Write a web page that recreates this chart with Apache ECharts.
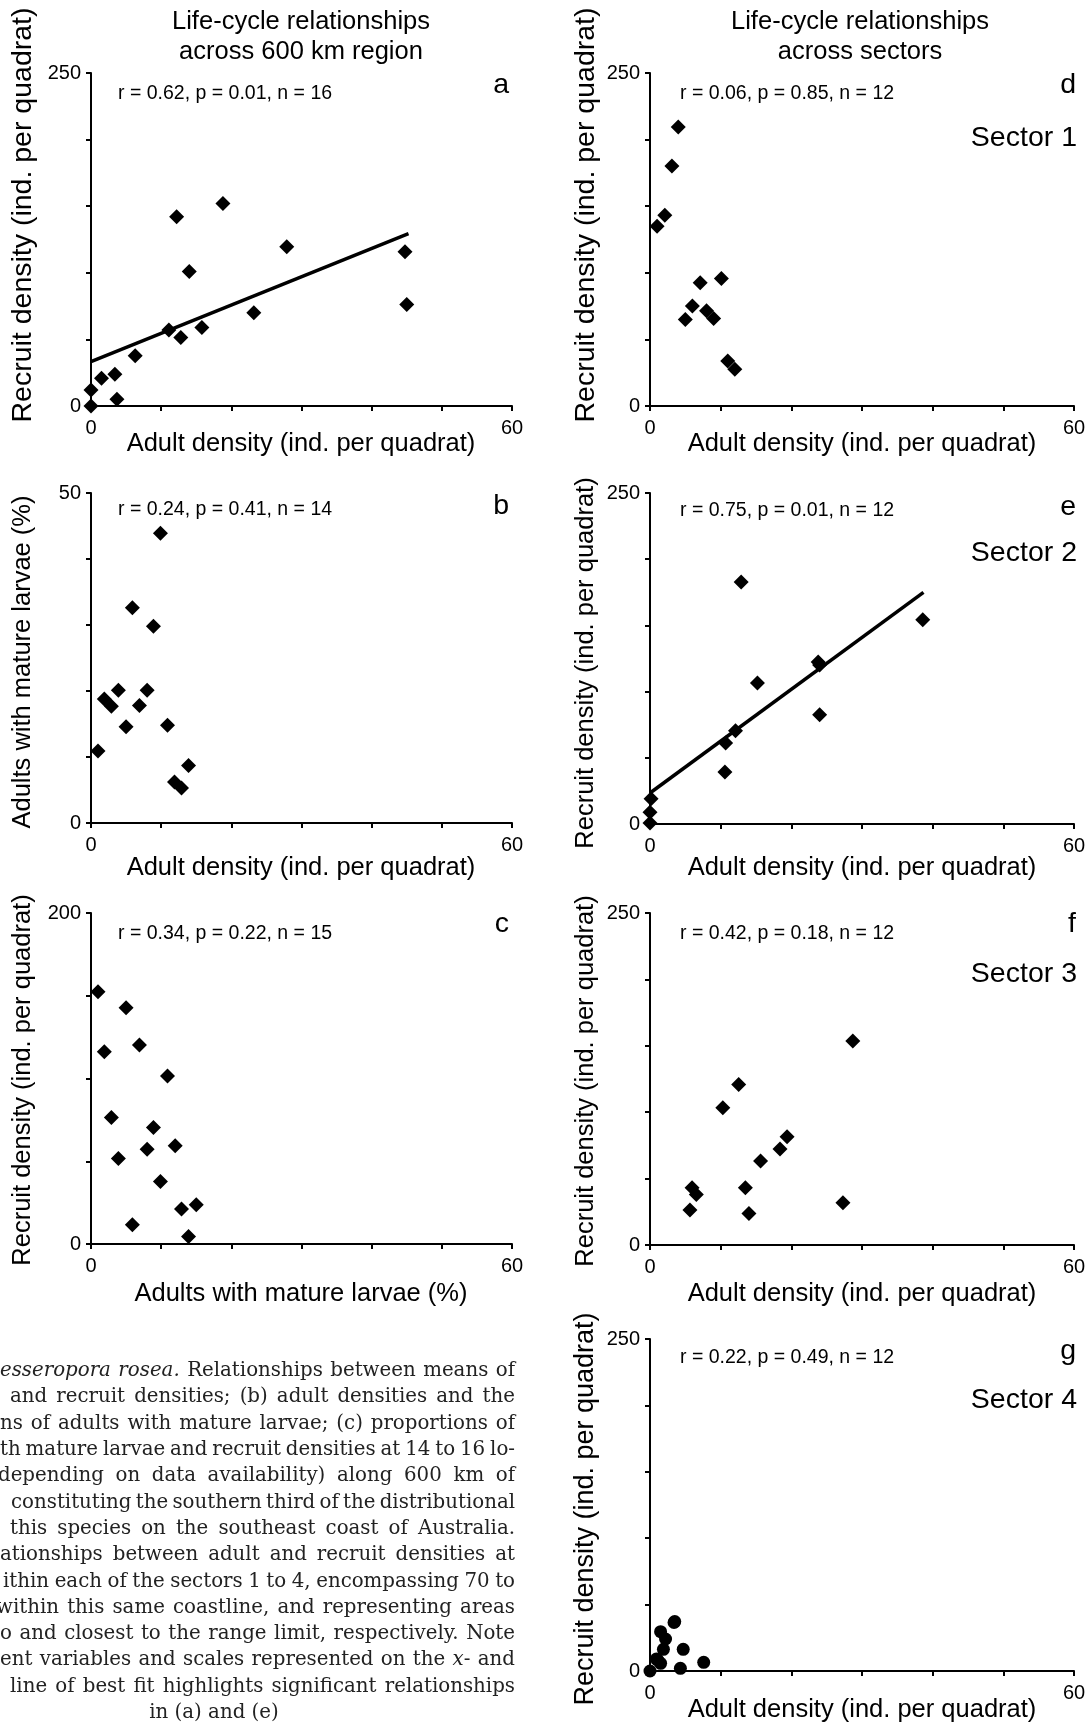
<!DOCTYPE html>
<html>
<head>
<meta charset="utf-8">
<script src="https://cdn.jsdelivr.net/npm/echarts@6/dist/echarts.min.js"></script>
<style>
  html, body { margin: 0; padding: 0; background: #fff; }
  #chart { width: 1091px; height: 1729px; }
</style>
</head>
<body>
<div id="chart"></div>
<script>
// (a) adult vs recruit density, whole region
const aAdult   = [0, 0, 1.5, 3.4, 3.7, 6.3, 11.1, 12.8, 12.2, 14.0, 15.8, 18.8, 23.2, 27.9, 44.75, 45.0]
const aRecruit = [0, 12, 20.75, 23.75, 5, 37.75, 57, 51.5, 142, 101, 59, 152, 70, 119.5, 115.75, 76.25]
const aFitX = [0, 45.25]
const aFitY = [33.25, 129.5]
// (b) adult density vs adults with mature larvae
const bAdult  = [9.9, 5.9, 8.9, 3.9, 8.0, 1.9, 2.9, 6.9, 5.0, 10.9, 1.0, 13.9, 11.9, 12.9]
const bLarvae = [43.9, 32.6, 29.8, 20.1, 20.1, 18.8, 17.7, 17.8, 14.6, 14.8, 10.9, 8.7, 6.2, 5.3]
// (c) adults with mature larvae vs recruit density
const cLarvae  = [1.0, 5.0, 1.9, 6.9, 10.9, 2.9, 8.9, 8.0, 12.0, 3.9, 9.9, 12.9, 15.0, 5.9, 13.9]
const cRecruit = [152.4, 142.7, 116.2, 120.2, 101.5, 76.4, 70.4, 57.3, 59.3, 51.7, 37.8, 21.1, 23.7, 11.7, 4.6]
// (d) sector 1
const dAdult   = [4.0, 3.1, 2.1, 1.0, 10.1, 7.1, 6.0, 5.0, 8.0, 9.0, 11.0, 12.0]
const dRecruit = [209.5, 180.25, 143.25, 135, 95.75, 92.5, 75, 65, 71.5, 65.75, 33.75, 27.5]
// (e) sector 2
const eAdult   = [12.9, 38.6, 23.8, 24.0, 15.2, 24.0, 12.1, 10.7, 10.6, 0.15, 0, 0]
const eRecruit = [182.8, 154.3, 122.4, 120.0, 106.5, 82.6, 70.5, 61.2, 39.3, 19.1, 8.8, 0.8]
const eFitX = [0, 38.7]
const eFitY = [23.4, 175]
// (f) sector 3
const fAdult   = [28.7, 12.55, 10.3, 19.4, 18.4, 15.65, 5.95, 6.55, 13.5, 5.65, 14.0, 27.3]
const fRecruit = [153.7, 120.9, 103.3, 81.5, 72.2, 63.2, 43.1, 38.1, 43.1, 26.3, 23.8, 31.8]
// (g) sector 4
const gAdult   = [0, 3.5, 1.5, 2.2, 1.9, 4.7, 1.1, 1.5, 7.6, 4.3, 0.9, 3.4]
const gRecruit = [0, 37.2, 29.6, 24.1, 16.3, 16.3, 8.3, 5.8, 6.5, 2.0, 9.0, 36.5]

// tick labels (only the ends are labelled)
const adultTicks = [0, 60]
const recruitTicks = [0, 250]
const recruitTicksC = [0, 200]
const larvaeTicks = [0, 50]

const stats = [
    'r = 0.62, p = 0.01, n = 16',
    'r = 0.24, p = 0.41, n = 14',
    'r = 0.34, p = 0.22, n = 15',
    'r = 0.06, p = 0.85, n = 12',
    'r = 0.75, p = 0.01, n = 12',
    'r = 0.42, p = 0.18, n = 12',
    'r = 0.22, p = 0.49, n = 12'
]
const letters = ['a', 'b', 'c', 'd', 'e', 'f', 'g']
const sectors = ['Sector 1', 'Sector 2', 'Sector 3', 'Sector 4']

// caption, cropped on the left in the source figure; {it|...} = italic
const captionLines = [
    '{it|esseropora} {it|rosea.} Relationships between means of',
    'and recruit densities; (b) adult densities and the',
    'ns of adults with mature larvae; (c) proportions of',
    'th mature larvae and recruit densities at 14 to 16 lo-',
    'depending on data availability) along 600 km of',
    'constituting the southern third of the distributional',
    'this species on the southeast coast of Australia.',
    'ationships between adult and recruit densities at',
    'ithin each of the sectors 1 to 4, encompassing 70 to',
    'within this same coastline, and representing areas',
    'o and closest to the range limit, respectively. Note',
    'ent variables and scales represented on the {it|x}- and',
    'line of best fit highlights significant relationships'
]
const captionLast = 'in (a) and (e)'

const FONT = "'Liberation Sans', Arial, Helvetica, sans-serif"
const SERIF = "'DejaVu Serif', 'Liberation Serif', serif"
const CAP_SIZE = 19.8
const CAP_COLOR = '#222'
// left edge of each justified caption line, right edge is shared
const captionLeft = [0, 10, 0, 0, -2, 11, 10, 0, 3, -4, 0, 0, 10]
const captionRight = 515

function zip (xs, ys) {
    return xs.map((x, i) => [x, ys[i]])
}

function onlyLabels (list) {
    return v => list.indexOf(v) >= 0 ? String(v) : ''
}

// panel boxes: a, b, c, d, e, f, g
const grids = [
    { left: 91, top: 73, width: 421, height: 333 },
    { left: 91, top: 493, width: 421, height: 330 },
    { left: 91, top: 913, width: 421, height: 331 },
    { left: 650, top: 73, width: 424, height: 333 },
    { left: 650, top: 493, width: 424, height: 331 },
    { left: 650, top: 913, width: 424, height: 332 },
    { left: 650, top: 1339, width: 424, height: 332 }
]

const yRanges = [
    { max: 250, interval: 50, ticks: recruitTicks },
    { max: 50, interval: 10, ticks: larvaeTicks },
    { max: 200, interval: 50, ticks: recruitTicksC },
    { max: 250, interval: 50, ticks: recruitTicks },
    { max: 250, interval: 50, ticks: recruitTicks },
    { max: 250, interval: 50, ticks: recruitTicks },
    { max: 250, interval: 50, ticks: recruitTicks }
]

const axisLine = { show: true, onZero: false, lineStyle: { color: '#000', width: 2 } }
const axisTick = { show: true, inside: false, length: 5, lineStyle: { color: '#000', width: 2 } }

const xAxes = grids.map((g, i) => ({
    type: 'value',
    gridIndex: i,
    min: 0,
    max: 60,
    interval: 10,
    axisLine: axisLine,
    axisTick: axisTick,
    splitLine: { show: false },
    axisLabel: {
        color: '#000', fontSize: 20, fontFamily: FONT, margin: 12,
        showMinLabel: true, showMaxLabel: true,
        formatter: onlyLabels(adultTicks)
    }
}))

const yAxes = grids.map((g, i) => ({
    type: 'value',
    gridIndex: i,
    min: 0,
    max: yRanges[i].max,
    interval: yRanges[i].interval,
    axisLine: axisLine,
    axisTick: axisTick,
    splitLine: { show: false },
    axisLabel: {
        color: '#000', fontSize: 20, fontFamily: FONT, margin: 10,
        showMinLabel: true, showMaxLabel: true,
        formatter: onlyLabels(yRanges[i].ticks)
    }
}))

const points = [
    zip(aAdult, aRecruit),
    zip(bAdult, bLarvae),
    zip(cLarvae, cRecruit),
    zip(dAdult, dRecruit),
    zip(eAdult, eRecruit),
    zip(fAdult, fRecruit),
    zip(gAdult, gRecruit)
]

const series = points.map((data, i) => ({
    type: 'scatter',
    xAxisIndex: i,
    yAxisIndex: i,
    data: data,
    clip: false,
    symbol: i === 6 ? 'circle' : 'diamond',
    symbolSize: i === 6 ? 13 : 15,
    itemStyle: { color: '#000', opacity: 1 },
    z: 3
}))

const fitStyle = { color: '#000', width: 3.5 }
series.push({
    type: 'line', xAxisIndex: 0, yAxisIndex: 0,
    data: zip(aFitX, aFitY), showSymbol: false, lineStyle: fitStyle, z: 2
})
series.push({
    type: 'line', xAxisIndex: 4, yAxisIndex: 4,
    data: zip(eFitX, eFitY), showSymbol: false, lineStyle: fitStyle, z: 2
})

function txt (x, y, text, size, align, opts) {
    opts = opts || {}
    return {
        type: 'text',
        x: x,
        y: y,
        rotation: opts.rotation || 0,
        style: {
            text: text,
            fontSize: size,
            fontFamily: opts.family || FONT,
            fontStyle: 'normal',
            fill: opts.fill || '#000',
            align: align,
            textAlign: align,
            verticalAlign: 'middle',
            textVerticalAlign: 'middle',
            rich: opts.rich
        }
    }
}

const graphic = []

// column headings
graphic.push(txt(301, 22, 'Life-cycle relationships', 25.5, 'center'))
graphic.push(txt(301, 52, 'across 600 km region', 25.5, 'center'))
graphic.push(txt(860, 22, 'Life-cycle relationships', 25.5, 'center'))
graphic.push(txt(860, 52, 'across sectors', 25.5, 'center'))

// y-axis titles
const yTitles = [
    ['Recruit density (ind. per quadrat)', 23, 215, 28.5],
    ['Adults with mature larvae (%)', 23, 662, 25.5],
    ['Recruit density (ind. per quadrat)', 23, 1080, 25.5],
    ['Recruit density (ind. per quadrat)', 586, 215, 28.5],
    ['Recruit density (ind. per quadrat)', 586, 663, 25.5],
    ['Recruit density (ind. per quadrat)', 586, 1081, 25.5],
    ['Recruit density (ind. per quadrat)', 586, 1509, 27]
]
yTitles.forEach(t => {
    graphic.push(txt(t[1], t[2], t[0], t[3], 'center', { rotation: Math.PI / 2 }))
})

// x-axis titles
const xTitles = [
    ['Adult density (ind. per quadrat)', 301, 444],
    ['Adult density (ind. per quadrat)', 301, 868],
    ['Adults with mature larvae (%)', 301, 1294],
    ['Adult density (ind. per quadrat)', 862, 444],
    ['Adult density (ind. per quadrat)', 862, 868],
    ['Adult density (ind. per quadrat)', 862, 1294],
    ['Adult density (ind. per quadrat)', 862, 1710]
]
xTitles.forEach(t => {
    graphic.push(txt(t[1], t[2], t[0], 25.5, 'center'))
})

// stats, panel letters, sector labels
const statY = [94, 510, 934, 94, 511, 934, 1358]
const letterY = [85, 506, 924, 85, 507, 924, 1351]
stats.forEach((s, i) => {
    const left = i < 3 ? 118 : 680
    const right = i < 3 ? 509 : 1076
    graphic.push(txt(left, statY[i], s, 19.5, 'left'))
    graphic.push(txt(right, letterY[i], letters[i], 28.5, 'right'))
})
const sectorY = [138, 553, 974, 1400]
sectors.forEach((s, i) => {
    graphic.push(txt(1077, sectorY[i], s, 28.5, 'right'))
})

// justified caption: measure each word and spread the gaps
const ctx = document.createElement('canvas').getContext('2d')
function wordWidth (word) {
    let w = 0
    const re = /\{it\|([^}]*)\}|([^{]+)/g
    let m
    while ((m = re.exec(word)) !== null) {
        ctx.font = (m[1] !== undefined ? 'italic ' : '') + CAP_SIZE + 'px ' + SERIF
        w += ctx.measureText(m[1] !== undefined ? m[1] : m[2]).width
    }
    return w
}
const rich = { it: { fontStyle: 'italic', fontSize: CAP_SIZE, fontFamily: SERIF, fill: CAP_COLOR } }
captionLines.forEach((line, i) => {
    const words = line.split(' ')
    const widths = words.map(wordWidth)
    const total = widths.reduce((s, w) => s + w, 0)
    const gap = (captionRight - captionLeft[i] - total) / (words.length - 1)
    let x = captionLeft[i]
    const y = 1371 + i * 26.3
    words.forEach((w, j) => {
        graphic.push(txt(x, y, w, CAP_SIZE, 'left', { family: SERIF, rich: rich, fill: CAP_COLOR }))
        x += widths[j] + gap
    })
})
graphic.push(txt(214, 1371 + 13 * 26.3, captionLast, CAP_SIZE, 'center', { family: SERIF, fill: CAP_COLOR }))

const option = {
    animation: false,
    backgroundColor: '#fff',
    grid: grids.map(g => Object.assign({ containLabel: false, outerBoundsMode: 'none' }, g)),
    xAxis: xAxes,
    yAxis: yAxes,
    series: series,
    graphic: graphic
}

const dom = echarts.init(document.getElementById('chart'), null, { renderer: 'canvas' })
dom.setOption(option)
window.addEventListener('resize', () => dom.resize())
</script>
</body>
</html>
